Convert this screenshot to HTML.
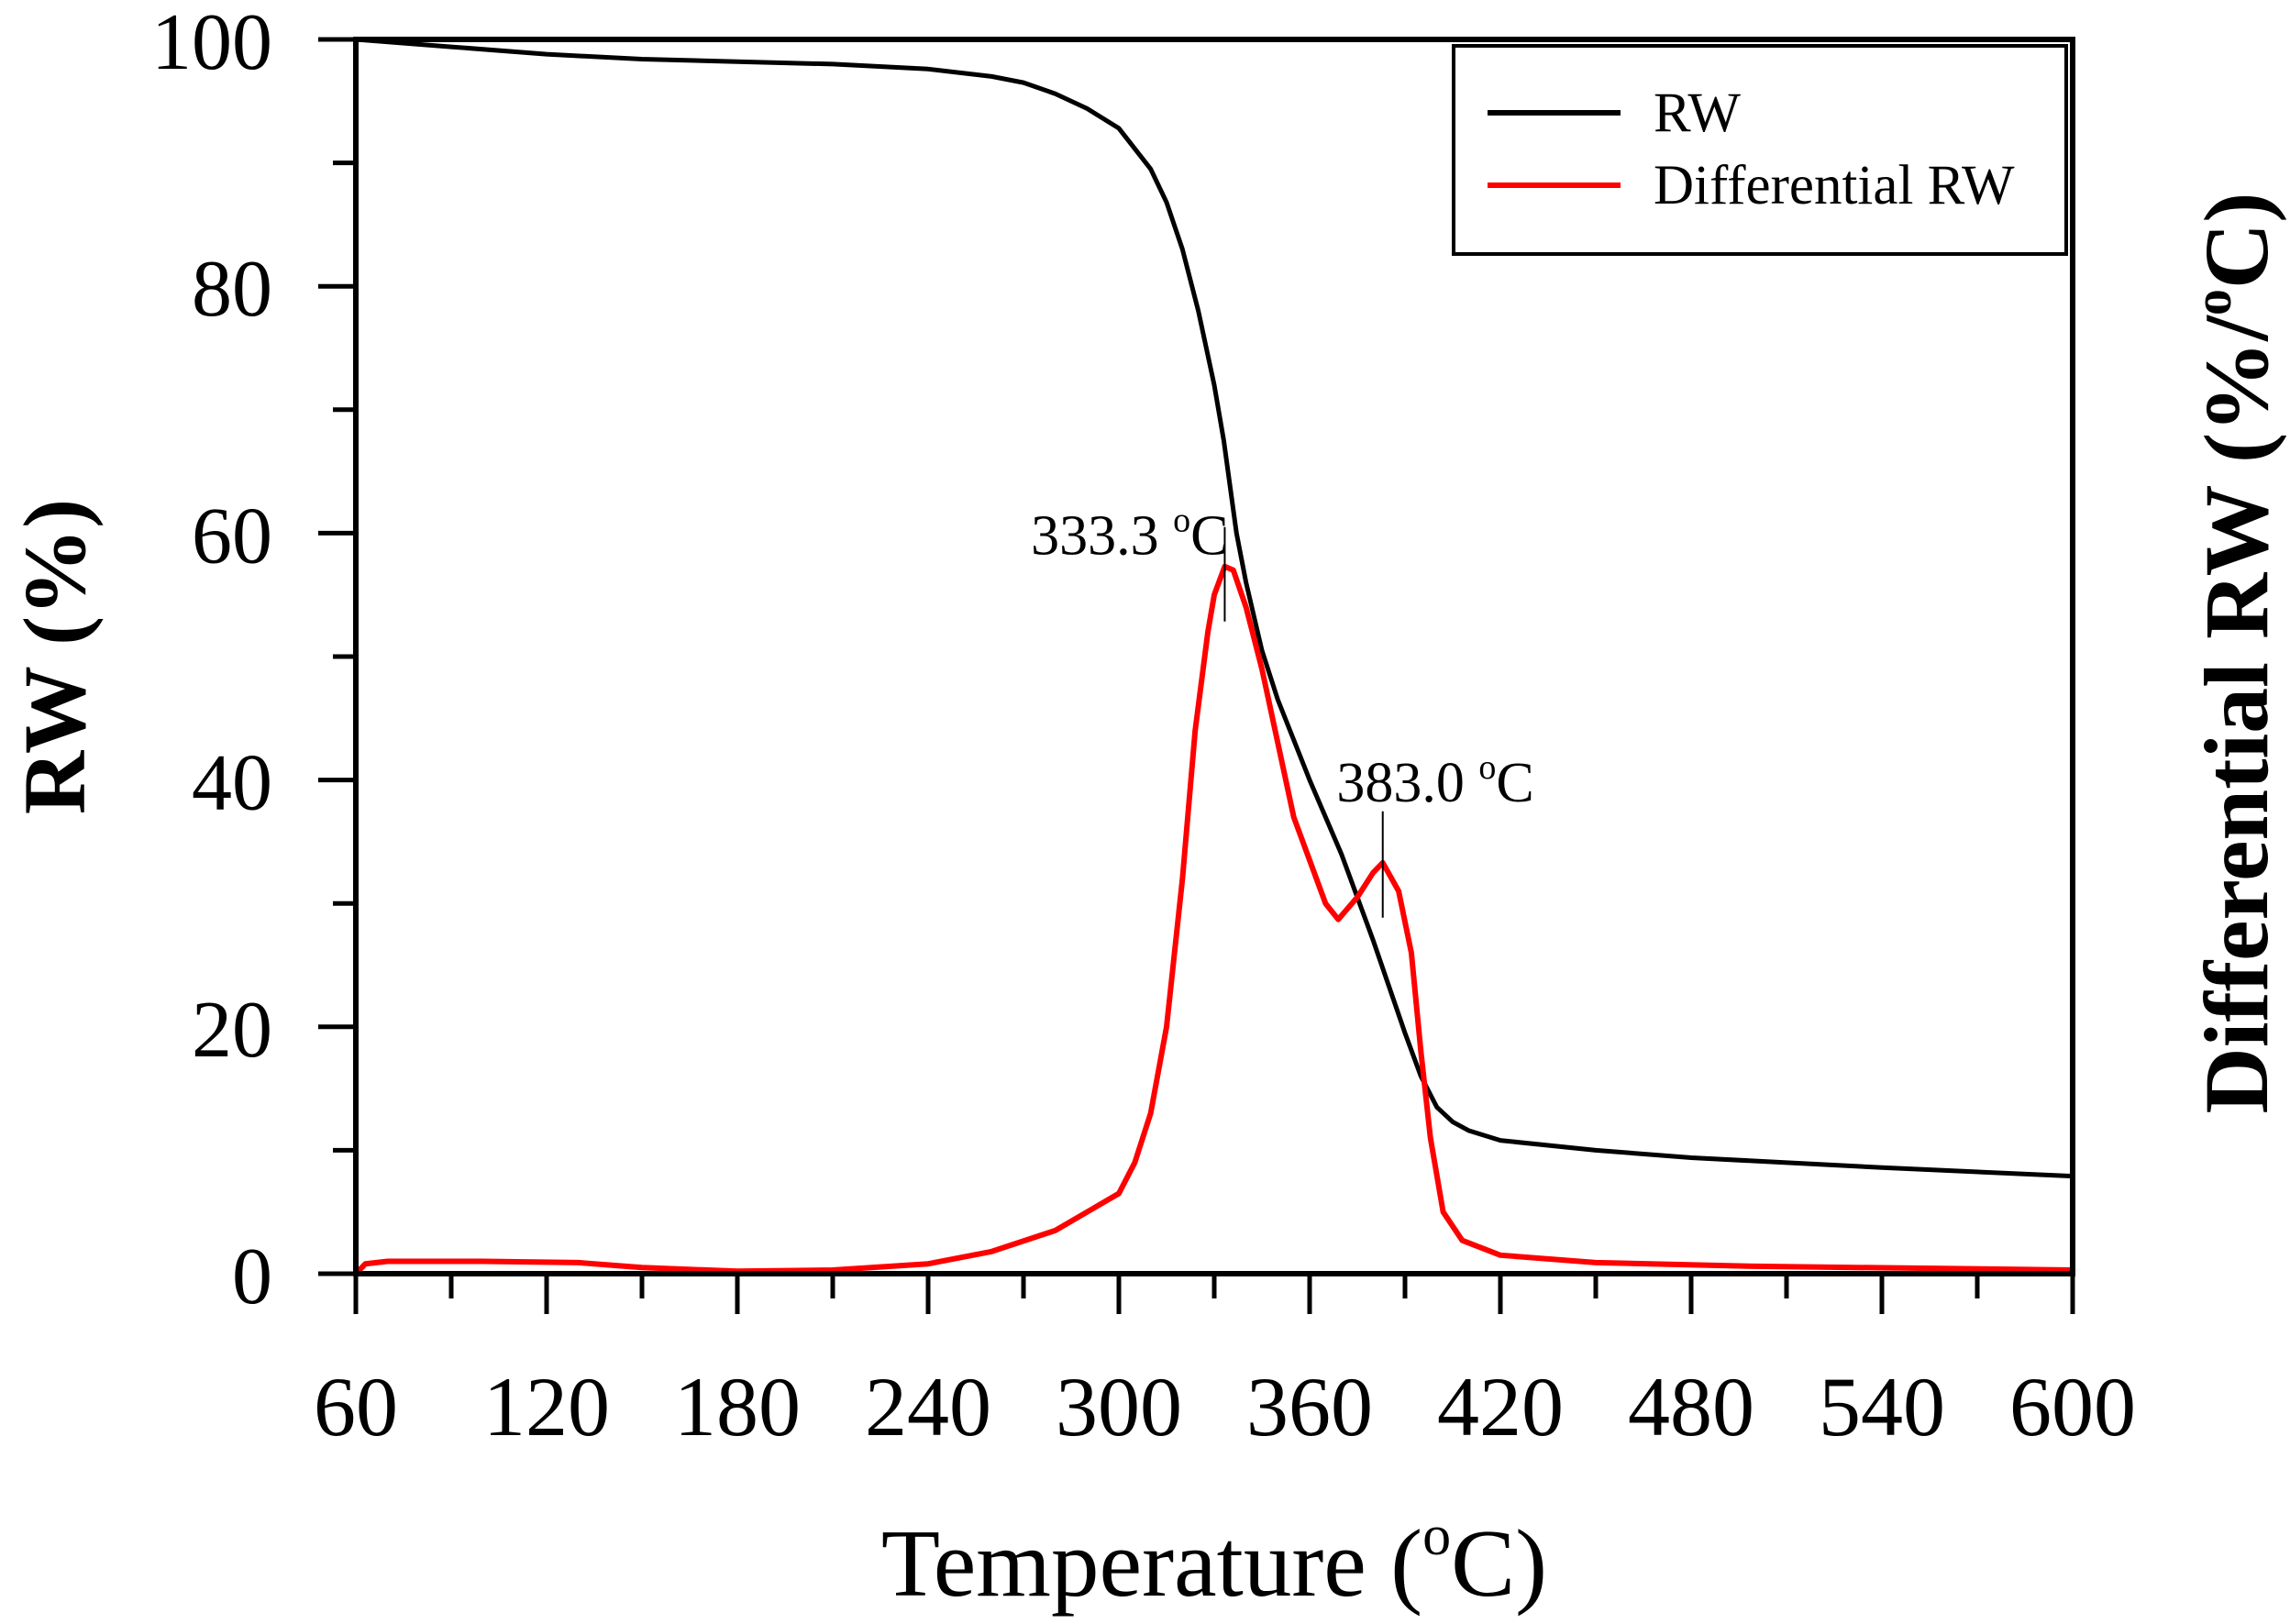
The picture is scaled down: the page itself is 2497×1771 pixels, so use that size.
<!DOCTYPE html>
<html><head><meta charset="utf-8"><style>
html,body{margin:0;padding:0;background:#fff}
svg{display:block}
text{font-family:"Liberation Serif",serif;fill:#000}
</style></head><body>
<svg id="chart" width="2497" height="1771" viewBox="0 0 2497 1771" xmlns="http://www.w3.org/2000/svg">
<rect width="2497" height="1771" fill="#fff"/>
<g id="marks"></g>
<rect x="388" y="43" width="1872" height="1346" fill="none" stroke="#000" stroke-width="6"/>
<g id="ticks"></g>
<text x="1324" y="1740" font-size="105" text-anchor="middle">Temperature (<tspan font-size="62" dy="-45">o</tspan><tspan dy="45">C)</tspan></text>
<text transform="translate(92,716) rotate(-90)" font-size="96" font-weight="bold" text-anchor="middle">RW (%)</text>
<text transform="translate(2472,712) rotate(-90)" font-size="100" font-weight="bold" text-anchor="middle">Differential RW (%/<tspan font-size="58" dy="-40">o</tspan><tspan dy="40">C)</tspan></text>
<g>
<rect x="1585" y="50" width="668" height="227" fill="#fff" stroke="#000" stroke-width="4"/>
<line x1="1622" y1="123" x2="1767" y2="123" stroke="#000" stroke-width="6"/>
<text x="1803" y="143" font-size="61">RW</text>
<line x1="1622" y1="202" x2="1767" y2="202" stroke="#f00" stroke-width="6"/>
<text x="1803" y="222" font-size="61">Differential RW</text>
</g>
</svg>
<script>
const xTicks=[60,120,180,240,300,360,420,480,540,600];
const yTicks=[0,20,40,60,80,100];
const rwT=[60,90,120,150,180,210,240,260,270,280,290,300,310,315,320,325,330,333,337,340,345,350,360,370,380,390,395,400,405,410,420,450,480,540,600];
const rwV=[100,99.4,98.8,98.4,98.2,98.0,97.6,97.0,96.5,95.6,94.4,92.8,89.5,86.8,83,78,72,67.5,60,56,50.5,46.5,40,34,27,19.5,16,13.5,12.3,11.6,10.8,10,9.4,8.6,7.9];
const dT=[60,63,70,100,130,150,180,210,240,260,280,290,300,305,310,315,320,324,328,330,333.3,336,340,345,350,355,360,365,369,375,380,383,388,392,395,398,402,408,420,450,500,600];
const dV=[0,0.8,1,1,0.9,0.5,0.2,0.3,0.8,1.8,3.5,5,6.5,9,13,20,32,44,52,55,57.3,57,54,49,43,37,33.5,30,28.7,30.5,32.5,33.3,31,26,18,11,5,2.7,1.5,0.9,0.6,0.3];
const peaks=[333.3,383.0];
const peakLabels=["333.3","383.0"];
const X0=388,X1=2260,Y0=1389,Y1=43;
function sx(t){return X0+(t-60)/(600-60)*(X1-X0);}
function sy(v){return Y0-v/100*(Y0-Y1);}
const NS="http://www.w3.org/2000/svg";
const marks=document.getElementById('marks'),ticks=document.getElementById('ticks');
function mk(tag,attrs,parent){const e=document.createElementNS(NS,tag);for(const k in attrs)e.setAttribute(k,attrs[k]);parent.appendChild(e);return e;}
function interp(ts,vs,t){for(let i=1;i<ts.length;i++){if(t<=ts[i]){const f=(t-ts[i-1])/(ts[i]-ts[i-1]);return vs[i-1]+f*(vs[i]-vs[i-1]);}}return vs[vs.length-1];}
for(let i=0;i<xTicks.length;i++){
  const x=sx(xTicks[i]);
  const l=mk('line',{x1:x,y1:Y0,x2:x,y2:Y0+44,stroke:'#000','stroke-width':5},ticks);
  
  
  if(i<xTicks.length-1){const xm=sx((xTicks[i]+xTicks[i+1])/2);
    const m=mk('line',{x1:xm,y1:Y0,x2:xm,y2:Y0+27,stroke:'#000','stroke-width':5},ticks);
    
    }
  const tx=mk('text',{x:x,y:1565,'font-size':92,'text-anchor':'middle'},ticks);
  tx.textContent=xTicks[i];
  
  
}
for(let i=0;i<yTicks.length;i++){
  const y=sy(yTicks[i]);
  const l=mk('line',{x1:X0-41,y1:y,x2:X0,y2:y,stroke:'#000','stroke-width':5},ticks);
  
  
  if(i<yTicks.length-1){const ym=sy((yTicks[i]+yTicks[i+1])/2);
    const m=mk('line',{x1:X0-25,y1:ym,x2:X0,y2:ym,stroke:'#000','stroke-width':5},ticks);
    
    }
  const tx=mk('text',{x:297,y:y+32,'font-size':88,'text-anchor':'end'},ticks);
  tx.textContent=yTicks[i];
  
  
}
const p1=mk('polyline',{points:rwT.map((t,i)=>sx(t)+','+sy(rwV[i])).join(' '),fill:'none',stroke:'#000','stroke-width':5,'stroke-linejoin':'round'},marks);


const p2=mk('polyline',{points:dT.map((t,i)=>sx(t)+','+sy(dV[i])).join(' '),fill:'none',stroke:'#f00','stroke-width':6,'stroke-linejoin':'round'},marks);


for(let i=0;i<peaks.length;i++){
  const x=sx(peaks[i]),v=interp(dT,dV,peaks[i]),y=sy(v);
  const top=(i==0?43:56), lab=(i==0?13:67);
  const l=mk('line',{x1:x,y1:y-top,x2:x,y2:y+60,stroke:'#000','stroke-width':2},marks);
  
  
  const tx=mk('text',{x:x+(i==0?4:165),y:y-lab,'font-size':62,'text-anchor':'end'},marks);
  tx.innerHTML=peakLabels[i]+' <tspan font-size="38" dy="-25">o</tspan><tspan dy="25">C</tspan>';
  
  
}
</script>
</body></html>
